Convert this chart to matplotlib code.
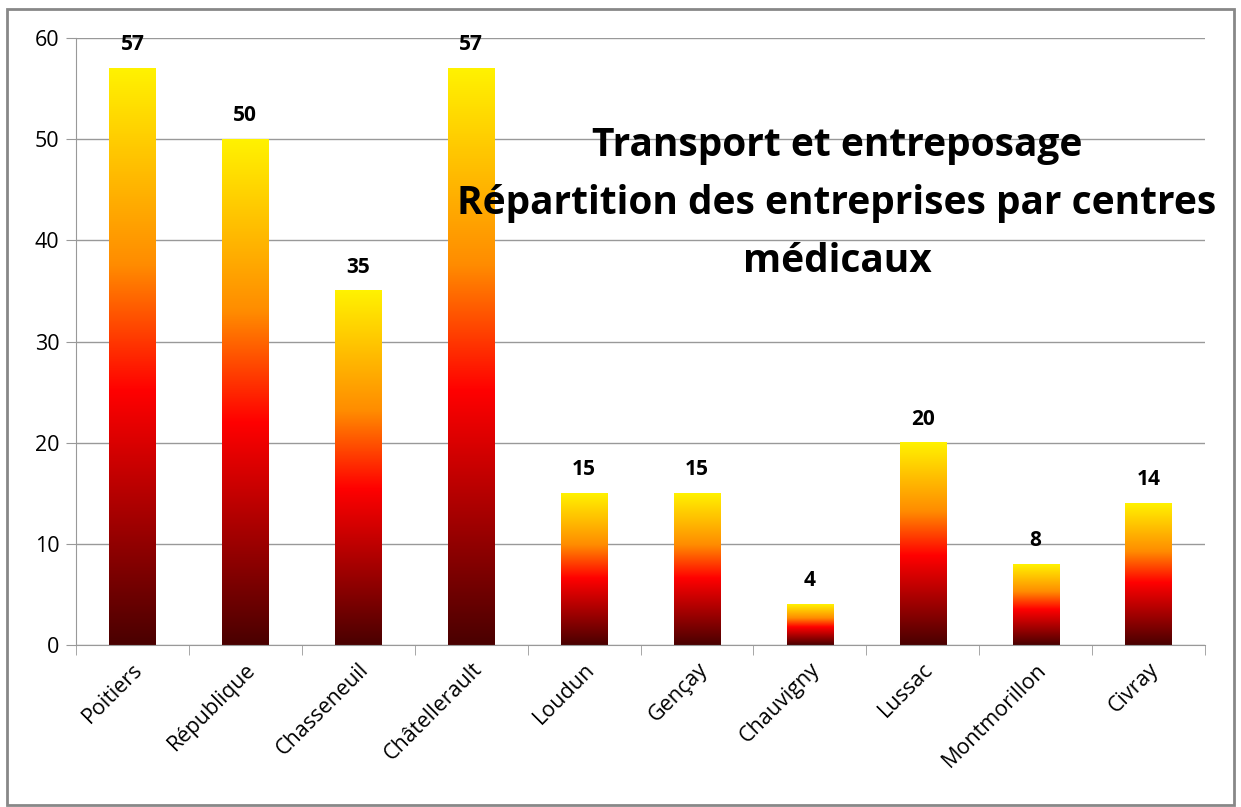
import numpy as np
import matplotlib.pyplot as plt
from matplotlib.colors import LinearSegmentedColormap
from matplotlib.patches import Rectangle

centres = ["Poitiers", "République", "Chasseneuil", "Châtellerault", "Loudun",
           "Gençay", "Chauvigny", "Lussac", "Montmorillon", "Civray"]
entreprises = [57, 50, 35, 57, 15, 15, 4, 20, 8, 14]

plt.rcParams['font.family'] = ['Open Sans', 'DejaVu Sans']

cmap = LinearSegmentedColormap.from_list(
    "feu", [(0.0, "#4a0000"), (0.44, "#ff0000"), (0.66, "#ff8c00"), (1.0, "#fff200")])
grad = np.linspace(0, 1, 256).reshape(-1, 1)

fig = plt.figure(figsize=(12.41, 8.07), dpi=100)
fig.patches.append(Rectangle((7 / 1241, 2 / 807), 1227 / 1241, 796 / 807,
                             transform=fig.transFigure, fill=False,
                             edgecolor="#888888", linewidth=2))
ax = fig.add_axes([76 / 1241, 162 / 807, 1129 / 1241, 607 / 807])

x = np.arange(len(centres))
bars = ax.bar(x, entreprises, width=0.41, color="none", zorder=2)
for b, v in zip(bars, entreprises):
    x0 = b.get_x()
    ax.imshow(grad, cmap=cmap, origin="lower", aspect="auto",
              extent=(x0, x0 + b.get_width(), 0, v), zorder=2)
    ax.text(b.get_x() + b.get_width() / 2, v + 1.3, str(v), ha="center",
            va="bottom", fontsize=15, fontweight="bold")

ax.set_xlim(-0.5, len(centres) - 0.5)
ax.set_ylim(0, 60)
ax.set_yticks(range(0, 61, 10))
ax.set_xticks(x)
ax.set_xticklabels(centres, rotation=45, ha="right", rotation_mode="anchor",
                   fontsize=15.5)
ax.set_xticks(np.arange(-0.5, len(centres)), minor=True)
ax.tick_params(axis="x", which="major", length=0, pad=10)
ax.tick_params(axis="x", which="minor", length=7, color="#999999")
ax.tick_params(axis="y", length=7, color="#999999", labelsize=15.5, pad=5)
ax.grid(axis="y", color="#999999", linewidth=1, zorder=0)
ax.set_axisbelow(True)
for s in ["top", "right"]:
    ax.spines[s].set_visible(False)
for s in ["left", "bottom"]:
    ax.spines[s].set_color("#999999")

ax.text(0.674, 0.727, "Transport et entreposage\nRépartition des entreprises par centres\nmédicaux",
        transform=ax.transAxes, ha="center", va="center", fontsize=28,
        fontweight="bold", linespacing=1.63, zorder=5)

fig.savefig("out.png", dpi=100)
